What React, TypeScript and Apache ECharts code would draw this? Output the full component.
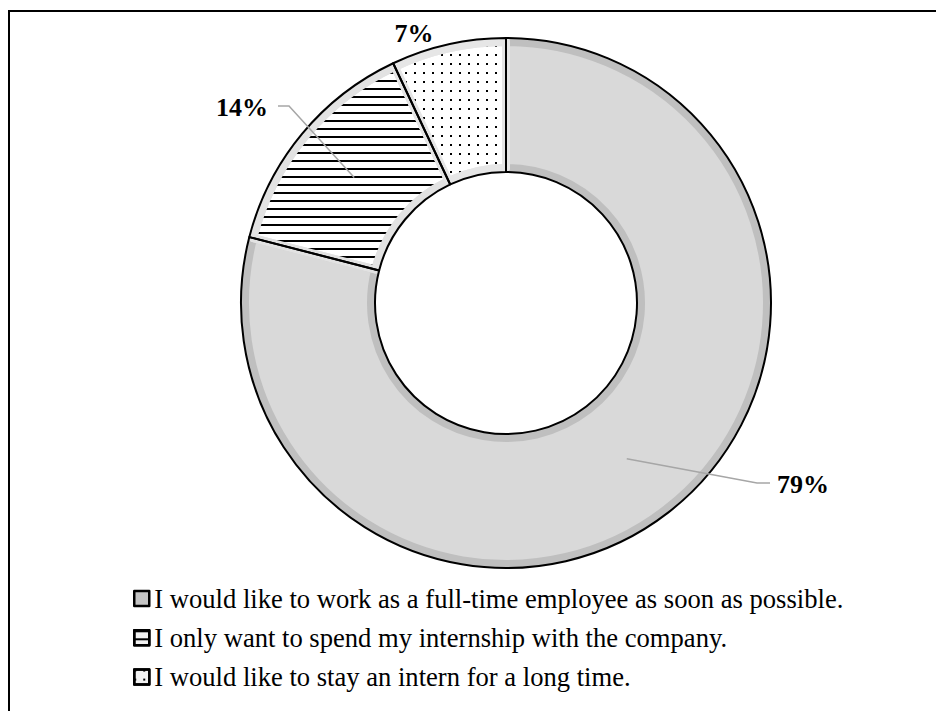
import React, { useEffect, useRef } from "react";
import * as echarts from "echarts";

// ---- data ----
const categories = [
  "I would like to work as a full-time employee as soon as possible.",
  "I only want to spend my internship with the company.",
  "I would like to stay an intern for a long time.",
];
const shares = [79, 14, 7];

// ---- styles / layout (not data) ----
const FILL = ["#d9d9d9", "#ffffff", "#ffffff"];
const BAND = ["#bfbfbf", "#e2e2e2", "#e6e6e6"];
const LEGEND_FILL = ["#c4c4c4", "#f2f2f2", "#f2f2f2"];
const DECALS: any[] = [
  undefined,
  { symbol: "rect", symbolSize: 1, dashArrayX: [1, 0], dashArrayY: [2, 6], color: "#000" },
  { symbol: "rect", symbolSize: 1, dashArrayX: [2, 7], dashArrayY: [2, 7], color: "#000" },
];
const LABEL_POS: any[] = [
  { x: 803, y: 484, bend: [757, 483], end: [770, 483] },
  { x: 242, y: 107, bend: [289, 106], end: [278, 106] },
  { x: 414, y: 33 },
];
const CENTER = [506, 303];
const FONT = "'Liberation Serif', 'Times New Roman', serif";

export default function App() {
  const ref = useRef<HTMLDivElement>(null);
  useEffect(() => {
    if (!ref.current) return;
    const chart = echarts.init(ref.current, undefined, { renderer: "svg" });
    const mainData = categories.map((name, i) => ({
      name,
      value: shares[i],
      itemStyle: { color: FILL[i], borderColor: BAND[i], ...(DECALS[i] ? { decal: DECALS[i] } : {}) },
    }));
    const outlineData = categories.map((name, i) => ({ name, value: shares[i] }));
    const labelData = categories.map((name, i) => ({
      name,
      value: shares[i],
      labelLine: { show: !!LABEL_POS[i].bend },
    }));
    chart.setOption({
      animation: false,
      backgroundColor: "#ffffff",
      graphic: [
        { type: "line", shape: { x1: 9, y1: 11, x2: 940, y2: 11 }, style: { stroke: "#000", lineWidth: 2 } },
        { type: "line", shape: { x1: 9, y1: 10, x2: 9, y2: 720 }, style: { stroke: "#000", lineWidth: 2 } },
      ],
      legend: {
        orient: "vertical",
        left: 128,
        top: 580,
        padding: 5,
        icon: "rect",
        itemWidth: 15,
        itemHeight: 15,
        itemGap: 12.3,
        selectedMode: false,
        data: categories.map((name, i) => ({ name, itemStyle: { color: LEGEND_FILL[i] } })),
        itemStyle: { borderColor: "#000", borderWidth: 2.5 },
        textStyle: { fontFamily: FONT, fontSize: 26.6, color: "#000", lineHeight: 26 },
      },
      series: [
        {
          type: "pie",
          name: "main",
          center: CENTER,
          radius: [135, 261],
          startAngle: 90,
          clockwise: true,
          silent: true,
          z: 2,
          avoidLabelOverlap: false,
          itemStyle: { borderWidth: 8 },
          label: { show: false },
          labelLine: { show: false },
          emphasis: { disabled: true },
          data: mainData,
        },
        {
          type: "pie",
          name: "outline",
          center: CENTER,
          radius: [131, 265],
          startAngle: 90,
          silent: true,
          z: 3,
          avoidLabelOverlap: false,
          itemStyle: { color: "rgba(0,0,0,0)", borderColor: "#000", borderWidth: 2 },
          label: { show: false },
          labelLine: { show: false },
          emphasis: { disabled: true },
          data: outlineData,
        },
        {
          type: "pie",
          name: "labels",
          center: CENTER,
          radius: [0, 197],
          startAngle: 90,
          silent: true,
          z: 4,
          avoidLabelOverlap: false,
          itemStyle: { color: "rgba(0,0,0,0)", borderWidth: 0 },
          emphasis: { disabled: true },
          label: {
            show: true,
            position: "outside",
            formatter: "{c}%",
            fontFamily: FONT,
            fontWeight: "bold",
            fontSize: 26,
            color: "#000",
          },
          labelLine: { show: true, length: 10, length2: 10, lineStyle: { color: "#a6a6a6", width: 1.5 } },
          labelLayout: (params: any) => {
            const p = LABEL_POS[params.dataIndex];
            const out: any = { x: p.x, y: p.y, align: "center", verticalAlign: "middle" };
            if (p.bend && params.labelLinePoints) {
              out.labelLinePoints = [params.labelLinePoints[0], p.bend, p.end];
            }
            return out;
          },
          data: labelData,
        },
      ],
    });
    return () => chart.dispose();
  }, []);
  return (
    <div
      ref={ref}
      style={{ position: "absolute", left: 0, top: 0, width: 936, height: 711, background: "#fff" }}
    />
  );
}
